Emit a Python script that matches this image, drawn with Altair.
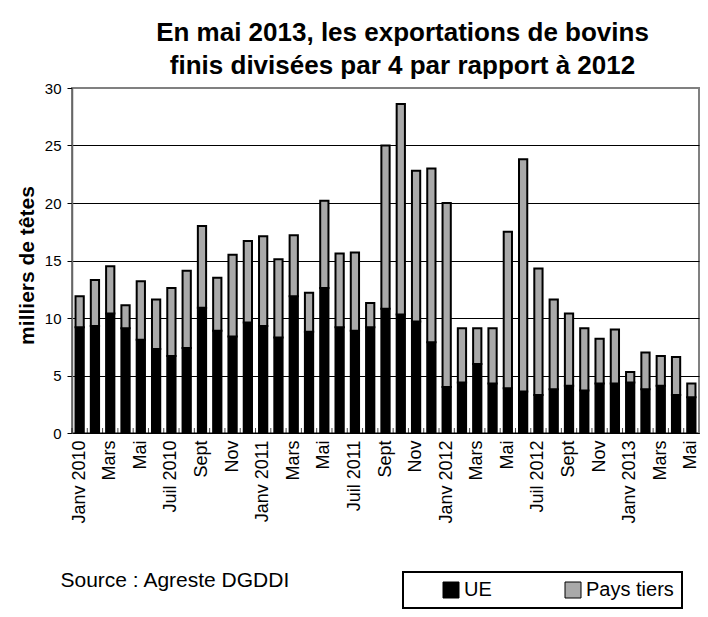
import json
import altair as alt
import pandas as pd

mois = [
    "Janv 2010", "Févr 2010", "Mars 2010", "Avr 2010", "Mai 2010", "Juin 2010",
    "Juil 2010", "Août 2010", "Sept 2010", "Oct 2010", "Nov 2010", "Déc 2010",
    "Janv 2011", "Févr 2011", "Mars 2011", "Avr 2011", "Mai 2011", "Juin 2011",
    "Juil 2011", "Août 2011", "Sept 2011", "Oct 2011", "Nov 2011", "Déc 2011",
    "Janv 2012", "Févr 2012", "Mars 2012", "Avr 2012", "Mai 2012", "Juin 2012",
    "Juil 2012", "Août 2012", "Sept 2012", "Oct 2012", "Nov 2012", "Déc 2012",
    "Janv 2013", "Févr 2013", "Mars 2013", "Avr 2013", "Mai 2013",
]
etiquettes = [
    "Janv 2010", "", "Mars", "", "Mai", "", "Juil 2010", "", "Sept", "", "Nov", "",
    "Janv 2011", "", "Mars", "", "Mai", "", "Juil 2011", "", "Sept", "", "Nov", "",
    "Janv 2012", "", "Mars", "", "Mai", "", "Juil 2012", "", "Sept", "", "Nov", "",
    "Janv 2013", "", "Mars", "", "Mai",
]
ue = [9.2, 9.3, 10.4, 9.1, 8.1, 7.3, 6.7, 7.4, 10.9, 8.9, 8.4, 9.6,
      9.3, 8.3, 11.9, 8.8, 12.6, 9.2, 8.9, 9.2, 10.8, 10.3, 9.7, 7.9,
      4.0, 4.4, 6.0, 4.3, 3.9, 3.6, 3.3, 3.8, 4.1, 3.7, 4.3, 4.3,
      4.4, 3.8, 4.1, 3.3, 3.1]
pays_tiers = [2.7, 4.0, 4.1, 2.0, 5.1, 4.3, 5.9, 6.7, 7.1, 4.6, 7.1, 7.1,
              7.8, 6.8, 5.3, 3.4, 7.6, 6.4, 6.8, 2.1, 14.2, 18.3, 13.1, 15.1,
              16.0, 4.7, 3.1, 4.8, 13.6, 20.2, 11.0, 7.8, 6.3, 5.4, 3.9, 4.7,
              0.9, 3.2, 2.6, 3.3, 1.2]
series = ["UE", "Pays tiers"]
couleurs = ["#000000", "#a9a9a9"]
y_ticks = [0, 5, 10, 15, 20, 25, 30]

titre = ["En mai 2013, les exportations de bovins",
         "finis divisées par 4 par rapport à 2012"]
titre_y = "milliers de têtes"
source = "Source : Agreste DGDDI"

rows = []
for i, m in enumerate(mois):
    rows.append({"mois": m, "serie": series[0], "ordre": 0, "valeur": ue[i]})
    rows.append({"mois": m, "serie": series[1], "ordre": 1, "valeur": pays_tiers[i]})
df = pd.DataFrame(rows)

FONT = "Liberation Sans"
W, H = 627, 345
half_step = W / len(mois) / 2

label_map = json.dumps(dict(zip(mois, etiquettes)), ensure_ascii=False)

x_enc = alt.X(
    "mois:N", sort=mois,
    scale=alt.Scale(paddingInner=0.46, paddingOuter=0.23),
    axis=alt.Axis(
        labelExpr=f"{label_map}[datum.value]",
        labelAngle=270, labelFontSize=18, labelColor="black", labelPadding=7,
        labelOverlap=False, labelBound=False, labelFont=FONT,
        ticks=False, domainColor="black", domainWidth=1,
        title=source, titleX=-12, titleY=153, titleAlign="left",
        titleBaseline="alphabetic", titleFontSize=21, titleFontWeight="normal",
        titleFont=FONT, titleColor="black", titleAnchor="start",
    ),
)

y_enc = alt.Y(
    "valeur:Q", stack="zero",
    scale=alt.Scale(domain=[0, 30], nice=False),
    axis=alt.Axis(
        values=y_ticks, title=titre_y, titleFontSize=21, titleFontWeight="bold",
        titleFont=FONT, titleColor="black",
        titleX=-39, titleY=177, titleAngle=270, titleAlign="center",
        titleBaseline="alphabetic",
        labelFontSize=15, labelPadding=6, labelColor="black", labelFont=FONT,
        tickSize=5, tickColor="black", domainColor="#666666", domainWidth=1.5,
        grid=True, gridWidth=1,
        gridColor={"condition": {"test": "datum.value == 30", "value": "#808080"},
                   "value": "black"},
    ),
)

bars = alt.Chart(df).mark_bar(stroke="black", strokeWidth=2).encode(
    x=x_enc,
    y=y_enc,
    color=alt.Color(
        "serie:N",
        scale=alt.Scale(domain=series, range=couleurs),
        legend=alt.Legend(
            orient="none", legendX=331, legendY=484, direction="horizontal",
            title="\u00a0", titleOrient="left", titleFontSize=1, titlePadding=30,
            padding=8, strokeColor="black", fillColor="white",
            symbolType="square", symbolSize=256, symbolStrokeColor="black",
            symbolStrokeWidth=1, symbolOpacity=1,
            labelFontSize=20, labelOffset=3, labelColor="black", labelFont=FONT,
            columnPadding=71,
            labelExpr="datum.label == 'Pays tiers' ? 'Pays tiers\u00a0\u00a0' : datum.label",
        ),
    ),
    order=alt.Order("ordre:Q"),
)

ticks = alt.Chart(df).transform_filter(f"datum.serie == '{series[0]}'").mark_tick(
    orient="vertical", size=5, thickness=1, color="black",
    xOffset=-half_step, yOffset=-2.5,
).encode(
    x=alt.X("mois:N", sort=mois),
    y=alt.datum(0),
)

chart = alt.layer(bars, ticks).properties(
    width=W, height=H,
    autosize=alt.AutoSizeParams(type="none"),
    padding={"left": 64, "top": 80, "right": 1, "bottom": 176},
    title=alt.Title(
        titre, fontSize=26, font=FONT, fontWeight="bold", color="black",
        anchor="middle", dx=17, lineHeight=33, offset=2,
    ),
).configure(font=FONT).configure_view(stroke="#808080", strokeWidth=2
).configure_legend(strokeWidth=2)

chart.save("out.html", embed_options={"renderer": "svg", "actions": False})
